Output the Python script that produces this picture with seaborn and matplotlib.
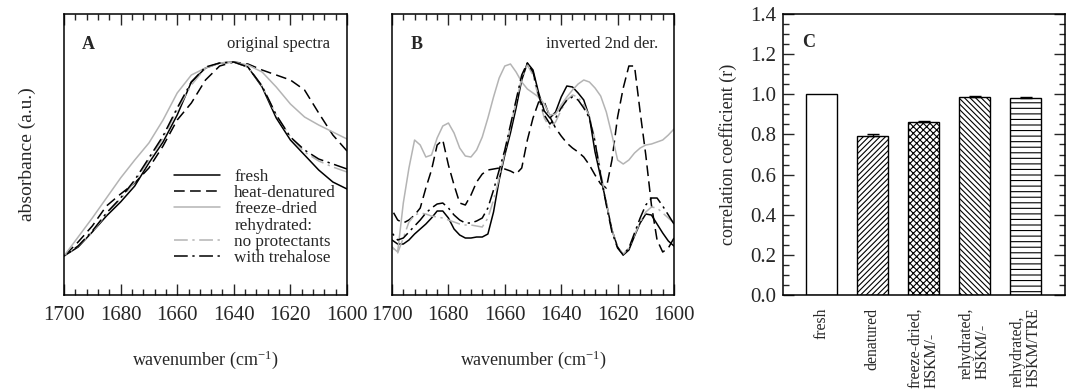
import matplotlib
matplotlib.use('Agg')
import matplotlib.pyplot as plt
from matplotlib.lines import Line2D
from matplotlib.ticker import MultipleLocator
import seaborn as sns

# panel A: original spectra (arbitrary units)
wn_a = list(range(1700, 1599, -5))
a_fresh = [39, 48, 63, 79, 93, 109, 132, 153, 180, 213, 227, 232, 233, 228, 208, 177, 155, 140, 125, 113, 106]
a_heat = [39, 53, 69, 89, 101, 112, 127, 149, 175, 192, 215, 229, 233, 231, 225, 220, 215, 205, 182, 160, 144]
a_freeze = [39, 58, 77, 97, 117, 135, 152, 175, 202, 220, 227, 232, 233, 230, 223, 208, 191, 178, 170, 163, 156]
a_noprot = [39, 49, 63, 81, 96, 113, 135, 157, 185, 210, 227, 232, 233, 228, 209, 180, 158, 143, 134, 128, 123]
a_tre = [39, 49, 64, 82, 97, 115, 137, 159, 187, 213, 228, 232, 233, 228, 209, 180, 158, 145, 136, 131, 126]

# panel B: inverted 2nd derivative
wn_b = list(range(1700, 1599, -2))
b_fresh = [55, 51, 51, 55, 61, 66, 71, 77, 84, 84, 77, 66, 60, 57, 57, 58, 58, 61, 83, 115,
           140, 162, 187, 215, 232, 225, 202, 184, 177, 183, 198, 209, 208, 202, 195, 178, 143, 118, 92, 65,
           48, 40, 45, 59, 72, 81, 80, 71, 62, 54, 49]
b_heat = [85, 75, 72, 75, 80, 87, 107, 125, 150, 155, 130, 110, 92, 90, 100, 113, 121, 125, 126, 127,
          126, 124, 121, 127, 155, 177, 193, 193, 178, 167, 159, 152, 147, 143, 138, 130, 120, 111, 107, 135,
          178, 207, 229, 229, 183, 140, 90, 55, 43, 47, 57]
b_freeze = [48, 43, 92, 127, 155, 150, 138, 140, 157, 169, 172, 162, 147, 139, 138, 145, 158, 177, 198, 217,
            229, 231, 223, 213, 206, 202, 198, 191, 180, 181, 190, 198, 205, 211, 215, 213, 207, 199, 183, 160,
            135, 131, 135, 142, 147, 150, 151, 153, 155, 160, 166]
b_noprot = [48, 42, 57, 73, 80, 82, 81, 79, 78, 77, 75, 73, 71, 70, 70, 69, 68, 77, 95, 117,
            143, 168, 193, 217, 230, 220, 197, 177, 167, 173, 185, 195, 200, 198, 190, 179, 155, 123, 93, 65,
            48, 41, 47, 60, 73, 83, 88, 87, 82, 77, 72]
b_tre = [62, 55, 57, 63, 69, 75, 82, 87, 91, 92, 87, 80, 75, 72, 72, 74, 77, 87, 105, 125,
         145, 170, 195, 220, 232, 223, 200, 180, 171, 177, 187, 195, 198, 195, 187, 177, 153, 120, 90, 63,
         47, 40, 47, 62, 77, 90, 97, 97, 89, 80, 71]

# panel C: correlation coefficients
groups = ['fresh', 'denatured', 'freeze-dried,\nHSKM/-', 'rehydrated,\nHSKM/-', 'rehydrated,\nHSKM/TRE']
corr = [1.0, 0.79, 0.863, 0.988, 0.98]
corr_err = [0.0, 0.01, 0.003, 0.004, 0.006]
hatches = ['', '//////', 'xxxxx', '\\\\\\\\\\\\', '---']

sns.set_style('ticks')
plt.rcParams['font.family'] = ['Liberation Serif', 'DejaVu Serif']
plt.rcParams['mathtext.fontset'] = 'custom'
plt.rcParams['mathtext.rm'] = 'Liberation Serif'
plt.rcParams['mathtext.it'] = 'Liberation Serif:italic'
plt.rcParams['hatch.linewidth'] = 0.8
plt.rcParams['axes.linewidth'] = 1.1

gray = '#b4b4b4'
dash = (0, (7, 3.5))
dashdot = (0, (9, 3, 1.5, 3))
series_style = [
    ('fresh', 'black', '-'),
    ('heat-denatured', 'black', dash),
    ('freeze-dried', gray, '-'),
    ('no protectants', gray, dashdot),
    ('with trehalose', 'black', dashdot),
]

fig = plt.figure(figsize=(10.77, 3.89), dpi=100)
axA = fig.add_axes([0.0594, 0.2416, 0.2628, 0.7224])
axB = fig.add_axes([0.3640, 0.2416, 0.2618, 0.7224])
axC = fig.add_axes([0.7270, 0.2416, 0.2618, 0.7224])

for ax, wn, data in [(axA, wn_a, [a_fresh, a_heat, a_freeze, a_noprot, a_tre]),
                     (axB, wn_b, [b_fresh, b_heat, b_freeze, b_noprot, b_tre])]:
    for (name, c, ls), y in zip(series_style, data):
        sns.lineplot(x=wn, y=y, ax=ax, color=c, linestyle=ls, lw=1.1)
    ax.set_xlim(1700, 1600)
    ax.set_ylim(0, 281)
    ax.set_yticks([])
    ax.xaxis.set_major_locator(MultipleLocator(20))
    ax.xaxis.set_minor_locator(MultipleLocator(4))
    ax.tick_params(axis='x', which='major', direction='in', top=True, length=8, width=1, labelsize=15, pad=8)
    ax.tick_params(axis='x', which='minor', direction='in', top=True, length=4.5, width=1)
    ax.set_xlabel('wavenumber (cm$^{-1}$)', fontsize=13, labelpad=17)
    for s in ax.spines.values():
        s.set_visible(True)
        s.set_color('black')

axA.set_ylabel('absorbance (a.u.)', fontsize=14, labelpad=20)
axB.set_ylabel('')
axA.text(0.064, 0.893, 'A', transform=axA.transAxes, fontsize=13, fontweight='bold', va='center')
axA.text(0.94, 0.893, 'original spectra', transform=axA.transAxes, fontsize=12, ha='right', va='center')
axB.text(0.067, 0.893, 'B', transform=axB.transAxes, fontsize=13, fontweight='bold', va='center')
axB.text(0.943, 0.893, 'inverted 2nd der.', transform=axB.transAxes, fontsize=12, ha='right', va='center')

handles = []
labels = []
for name, c, ls in series_style:
    if name == 'no protectants':
        handles.append(Line2D([], [], color='none'))
        labels.append('rehydrated:')
    handles.append(Line2D([], [], color=c, linestyle=ls, lw=1.1))
    labels.append(name)
axA.legend(handles, labels, loc='upper left', bbox_to_anchor=(0.39, 0.45), frameon=False,
           fontsize=12.3, handlelength=2.7, handletextpad=0.8, labelspacing=0.02, borderpad=0,
           borderaxespad=0)

# panel C
sns.barplot(x=groups, y=corr, ax=axC, color='white', edgecolor='black', linewidth=1, width=0.6,
            saturation=1, errorbar=None)
for p, h in zip(axC.patches, hatches):
    p.set_hatch(h)
    p.set_facecolor('white')
    p.set_edgecolor('black')
idx = [i for i in range(len(groups)) if corr_err[i] > 0]
axC.errorbar(idx, [corr[i] for i in idx], yerr=[[0] * len(idx), [corr_err[i] for i in idx]],
             fmt='none', ecolor='black', elinewidth=1, capsize=4, capthick=1)
axC.set_xlim(-0.755, 4.77)
axC.set_ylim(0, 1.4)
axC.yaxis.set_major_locator(MultipleLocator(0.2))
axC.yaxis.set_minor_locator(MultipleLocator(0.05))
axC.yaxis.set_major_formatter(matplotlib.ticker.FormatStrFormatter('%.1f'))
axC.tick_params(axis='y', which='major', direction='in', right=True, length=8, width=1, labelsize=15, pad=5)
axC.tick_params(axis='y', which='minor', direction='in', right=True, length=4.5, width=1)
axC.tick_params(axis='x', length=0, labelsize=11.3, pad=9)
for lab in axC.get_xticklabels():
    lab.set_rotation(90)
    lab.set_multialignment('left')
    lab.set_linespacing(1.0)
axC.set_ylabel('correlation coefficient (r)', fontsize=13, labelpad=9)
axC.set_xlabel('')
axC.text(0.067, 0.897, 'C', transform=axC.transAxes, fontsize=13, fontweight='bold', va='center')
for s in axC.spines.values():
    s.set_visible(True)
    s.set_color('black')

fig.savefig('out.png', dpi=100)
